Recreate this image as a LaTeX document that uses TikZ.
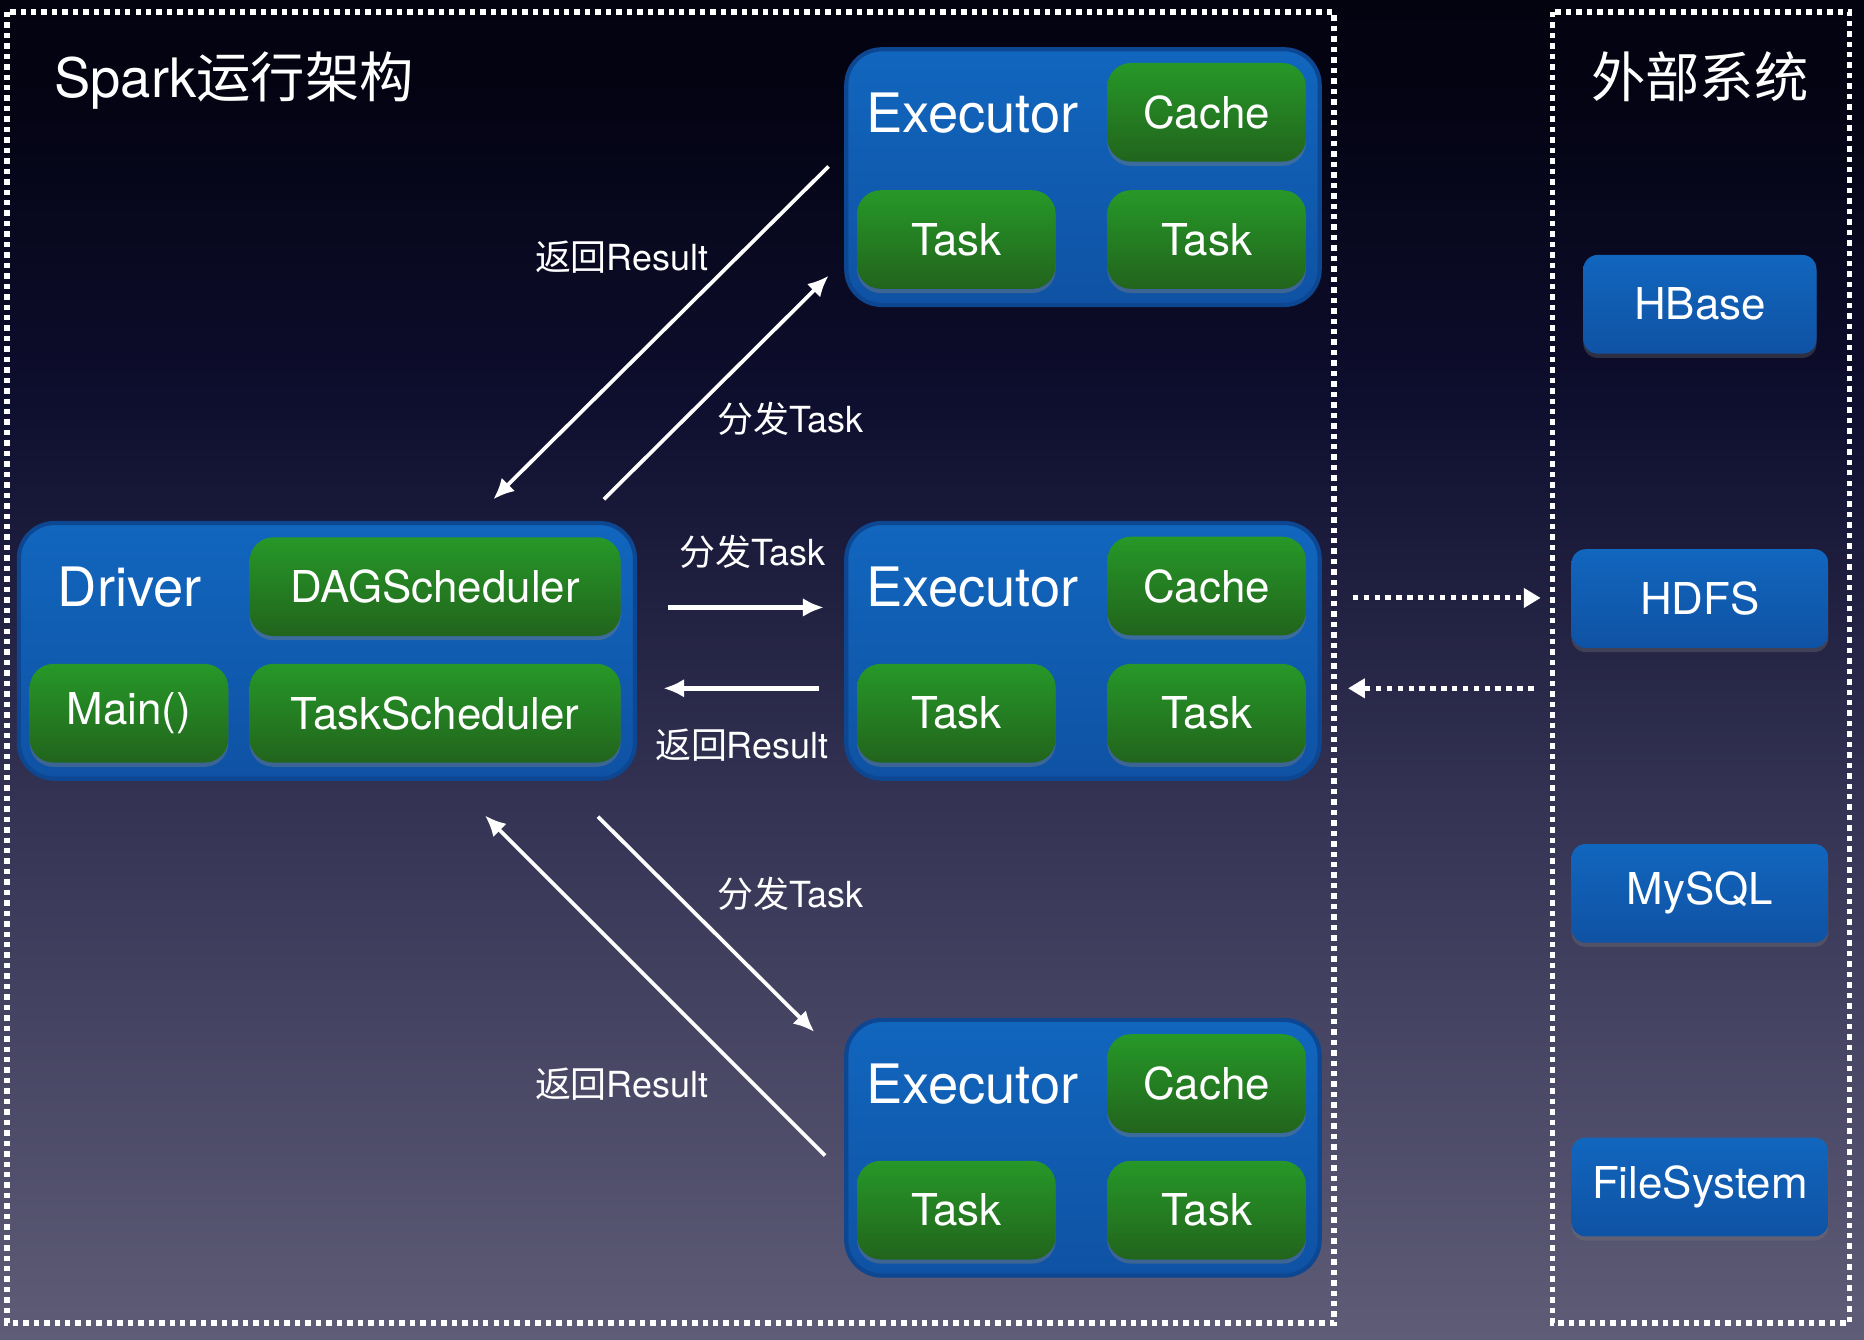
\documentclass[tikz,border=0pt]{standalone}
\usepackage{fontspec}
\setmainfont{TeX Gyre Heros}
\newfontfamily\cjk{Noto Sans CJK SC}
\usetikzlibrary{arrows.meta,shadows}

\definecolor{bgbot}{RGB}{114,112,136}
\definecolor{bglow}{RGB}{94,92,118}
\definecolor{bgmid}{RGB}{52,51,84}
\definecolor{bgnavy}{RGB}{14,14,46}
\definecolor{bgdark}{RGB}{3,3,18}
\definecolor{bluetop}{RGB}{17,102,190}
\definecolor{bluebot}{RGB}{15,82,164}
\definecolor{blueedge}{RGB}{13,70,145}
\definecolor{greentop}{RGB}{38,152,40}
\definecolor{greenbot}{RGB}{34,100,28}
\pgfdeclareverticalshading{sparkbg}{100bp}{color(0bp)=(bgbot); color(25bp)=(bglow);
  color(45bp)=(bgmid); color(60bp)=(bgnavy); color(72bp)=(bgdark); color(100bp)=(black)}

\begin{document}
\begin{tikzpicture}[x=0.01cm,y=-0.01cm,
  big/.style={text=white,inner sep=0pt,font=\fontsize{13}{15}\selectfont},
  lbl/.style={text=white,inner sep=0pt,font=\fontsize{8.6}{10}\selectfont},
  exec/.style={draw=blueedge,line width=1pt,rounded corners=0.3cm,top color=bluetop,
    bottom color=bluebot,minimum width=3.98cm,minimum height=2.15cm},
  comp/.style={rounded corners=0.2cm,top color=greentop,bottom color=greenbot,
    minimum width=1.67cm,minimum height=0.83cm,text=white,font=\fontsize{10.5}{12}\selectfont,
    drop shadow={opacity=0.4,shadow xshift=0pt,shadow yshift=-1pt}},
  store/.style={rounded corners=0.12cm,top color=bluetop,bottom color=bluebot,
    minimum width=2.16cm,minimum height=0.83cm,text=white,font=\fontsize{10.5}{12}\selectfont,
    drop shadow={opacity=0.3,shadow xshift=0pt,shadow yshift=-1pt}},
  frame/.style={draw=white,line width=1.3pt,dash pattern=on 1.3pt off 1.2pt},
  flow/.style={draw=white,line width=0.9pt,-{Latex[length=5pt,width=4.5pt]}},
  dot/.style={draw=white,line width=1.2pt,dash pattern=on 1.3pt off 1.3pt,
    -{Triangle[length=4pt,width=4.5pt]}}]
\shade[shading=sparkbg] (0,0) rectangle (1568,1127);
\draw[frame] (6,10) rectangle (1122,1113);
\draw[frame] (1306,10) rectangle (1556,1113);

\node[big,anchor=base west] (title) at (45,82) {Spark{\cjk 运行架构}};
\node[big,anchor=base] (ext-title) at (1430,82) {\cjk 外部系统};

% driver
\node[exec,minimum width=5.18cm] (drv) at (275,547.5) {};
\node[big,anchor=west] (drv-l) at (48,494) {Driver};
\node[comp,minimum width=3.12cm] (dag) at (366,493.5) {DAGScheduler};
\node[comp] (main) at (108.5,600) {Main()};
\node[comp,minimum width=3.12cm] (ts) at (366,600) {TaskScheduler};

% executors
\node[exec] (e1) at (911,149) {};
\node[big,anchor=west] (e1-l) at (728,95) {Executor};
\node[comp] (e1-c) at (1015,94.5) {Cache};
\node[comp] (e1-t1) at (804.5,201.5) {Task};
\node[comp] (e1-t2) at (1015,201.5) {Task};

\node[exec] (e2) at (911,547.5) {};
\node[big,anchor=west] (e2-l) at (728,494) {Executor};
\node[comp] (e2-c) at (1015,493) {Cache};
\node[comp] (e2-t1) at (804.5,600) {Task};
\node[comp] (e2-t2) at (1015,600) {Task};

\node[exec] (e3) at (911,965.5) {};
\node[big,anchor=west] (e3-l) at (728,912) {Executor};
\node[comp] (e3-c) at (1015,911.5) {Cache};
\node[comp] (e3-t1) at (804.5,1018) {Task};
\node[comp] (e3-t2) at (1015,1018) {Task};

% external systems
\node[store,minimum width=1.96cm] (hbase) at (1430,256) {HBase};
\node[store] (hdfs) at (1430,503.5) {HDFS};
\node[store] (mysql) at (1430,751.5) {MySQL};
\node[store] (fs) at (1430,998.5) {FileSystem};

% labels
\node[lbl] (l-r1) at (523,216) {{\cjk 返回}Result};
\node[lbl] (l-d1) at (665,352) {{\cjk 分发}Task};
\node[lbl] (l-d2) at (633,464) {{\cjk 分发}Task};
\node[lbl] (l-r2) at (624,627) {{\cjk 返回}Result};
\node[lbl] (l-d3) at (665,752) {{\cjk 分发}Task};
\node[lbl] (l-r3) at (523,912) {{\cjk 返回}Result};

\coordinate (r1a) at (697,140); \coordinate (r1b) at (415,420);
\coordinate (d1a) at (508,420); \coordinate (d1b) at (697,232);
\coordinate (d2a) at (562,511); \coordinate (d2b) at (693,511);
\coordinate (r2a) at (689,579); \coordinate (r2b) at (558,579);
\coordinate (d3a) at (503,687); \coordinate (d3b) at (685,868);
\coordinate (r3a) at (694,972); \coordinate (r3b) at (408,686);
\coordinate (x1a) at (1138,503); \coordinate (x1b) at (1296,503);
\coordinate (x2a) at (1290,579); \coordinate (x2b) at (1134,579);

\path
(r1a) edge[flow] (r1b)
(d1a) edge[flow] (d1b)
(d3a) edge[flow] (d3b)
(r3a) edge[flow] (r3b)
(d2a) edge[flow,line width=1.2pt] (d2b)
(r2a) edge[flow,line width=1.2pt] (r2b)
(x1a) edge[dot] (x1b)
(x2a) edge[dot] (x2b);
\end{tikzpicture}
\end{document}
